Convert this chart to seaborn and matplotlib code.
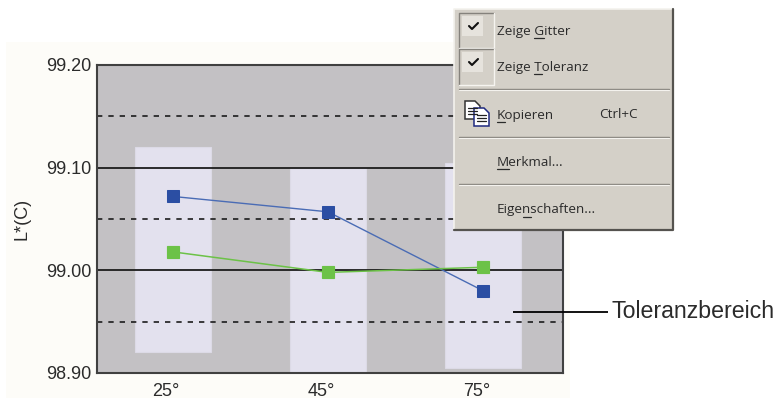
import pandas as pd
import matplotlib
matplotlib.use('Agg')
import matplotlib.pyplot as plt
import seaborn as sns
from matplotlib.patches import Rectangle, Polygon
from matplotlib.transforms import ScaledTranslation

# --- Daten ---
WINKEL = ['25°', '45°', '75°']
TOL_OBEN = [99.120, 99.100, 99.105]
TOL_UNTEN = [98.920, 98.900, 98.905]
BLAU = [99.072, 99.057, 98.980]
GRUEN = [99.018, 98.998, 99.003]
Y_TICKS = [98.90, 99.00, 99.10, 99.20]
GITTER_VOLL = [99.00, 99.10]
GITTER_STRICH = [98.95, 99.05, 99.15]

MENU_FARBE = '#d4d0c8'
TEXT_FARBE = '#2b2b2b'
MENU_FONT = 9.7

sns.set_theme(style='white')
plt.rcParams['font.family'] = ['Liberation Sans', 'DejaVu Sans']

df = pd.DataFrame({'winkel': WINKEL,
                   'hoehe': [o - u for o, u in zip(TOL_OBEN, TOL_UNTEN)],
                   'unten': TOL_UNTEN, 'blau': BLAU, 'gruen': GRUEN})

fig = plt.figure(figsize=(7.77, 3.99), dpi=100, facecolor='white')

# Hintergrund in Pixelkoordinaten
hg = fig.add_axes([0, 0, 1, 1], zorder=0)
hg.set_xlim(0, 777)
hg.set_ylim(399, 0)
hg.axis('off')
hg.add_patch(Rectangle((6, 42), 564, 356, fc='#fdfcf8', ec='none'))

ax = fig.add_axes([97 / 777, (399 - 373) / 399, 466 / 777, 308 / 399], zorder=1)
ax.set_facecolor('#c3c1c4')

# Toleranzbereiche
sns.barplot(data=df, x='winkel', y='hoehe', bottom=df['unten'], color='#e3e1ee', errorbar=None,
            saturation=1, width=0.49, edgecolor='#dcdae6', linewidth=0.8, ax=ax, zorder=1)

for w in GITTER_VOLL:
    ax.axhline(w, color='#1c1c1c', lw=1.3, zorder=2)
for w in GITTER_STRICH:
    ax.axhline(w, color='#1c1c1c', lw=1.2, dashes=(3.2, 3.6), zorder=2)

# Messreihen
sns.pointplot(data=df, x='winkel', y='blau', color='#2b4ea3', markers='s', markersize=8,
              linewidth=1, errorbar=None, ax=ax, zorder=3)
blau_linie = ax.lines[-1]
blau_linie.set_color('#4a6cb5')
blau_linie.set_markerfacecolor('#2b4ea3')
blau_linie.set_markeredgecolor('#2b4ea3')
sns.pointplot(data=df, x='winkel', y='gruen', color='#6cc247', markers='s', markersize=8,
              linewidth=1.1, errorbar=None, ax=ax, zorder=4)

ax.set_xlim(-0.487, 2.513)
ax.set_ylim(98.90, 99.20)
ax.set_yticks(Y_TICKS)
ax.set_yticklabels([f'{t:.2f}' for t in Y_TICKS])
ax.set_xlabel('')
ax.set_ylabel('L*(C)', fontsize=13, color=TEXT_FARBE, labelpad=11)
ax.tick_params(axis='both', length=0, labelsize=13, labelcolor=TEXT_FARBE)
ax.tick_params(axis='y', pad=4)
ax.tick_params(axis='x', pad=7)
# Beschriftung sitzt links neben dem Messpunkt
versatz = ScaledTranslation(-7 / 100, 0, fig.dpi_scale_trans)
for lab in ax.get_xticklabels():
    lab.set_transform(lab.get_transform() + versatz)
for seite in ax.spines.values():
    seite.set_visible(True)
    seite.set_color('#404040')
    seite.set_linewidth(1.5)

# Menü und Beschriftung darüber
ob = fig.add_axes([0, 0, 1, 1], zorder=5)
ob.set_xlim(0, 777)
ob.set_ylim(399, 0)
ob.axis('off')
ob.patch.set_alpha(0)

ob.plot([513, 608], [312, 312], color='black', lw=1.3, solid_capstyle='butt')
ob.text(611, 312, 'Toleranzbereich', fontsize=16.7, color=TEXT_FARBE, va='center', ha='left')

ob.add_patch(Rectangle((454, 9), 219, 221, fc=MENU_FARBE, ec='none'))
ob.plot([454, 454, 673], [230, 9, 9], color='#f4f2ee', lw=1.2)
ob.plot([454, 673, 673], [230, 230, 9], color='#55534f', lw=1.6)

for y in [89, 137, 184]:
    ob.plot([459, 669], [y, y], color='#8a8780', lw=1)
    ob.plot([459, 669], [y + 1, y + 1], color='#f4f2ee', lw=0.8)

# Häkchen-Felder
for y, h in [(13, 35), (49, 36)]:
    ob.add_patch(Rectangle((462, y + 3), 21, 20, fc='#e6e3dd', ec='none'))
    ob.plot([459, 459, 494], [y + h, y, y], color='#85827c', lw=1)
    ob.plot([459, 494, 494], [y + h, y + h, y], color='#f6f4f0', lw=1)
    ob.plot([469, 472, 478], [y + 13, y + 16, y + 10], color='#111111', lw=1.5)


def menu_text(x, y, s, unter=None):
    t = ob.text(x, y, s, fontsize=MENU_FONT, color=TEXT_FARBE, va='center', ha='left', family='Open Sans')
    if unter is not None:
        r = fig.canvas.get_renderer()
        kw = dict(fontsize=MENU_FONT, family='Open Sans')
        links = ob.text(0, 0, s[:unter] + '|', **kw)
        strich = ob.text(0, 0, '|', **kw)
        voll = ob.text(0, 0, s[:unter + 1] + '|', **kw)
        x0 = x + links.get_window_extent(r).width - strich.get_window_extent(r).width
        x1 = x + voll.get_window_extent(r).width - strich.get_window_extent(r).width
        for h in (links, strich, voll):
            h.remove()
        ob.plot([x0, x1], [y + 6.5, y + 6.5], color=TEXT_FARBE, lw=0.9)
    return t


menu_text(497, 31, 'Zeige Gitter', 6)
menu_text(497, 67, 'Zeige Toleranz', 6)
menu_text(497, 115, 'Kopieren', 0)
menu_text(599, 115, 'Ctrl+C')
menu_text(497, 162, 'Merkmal...', 0)
menu_text(497, 210, 'Eigenschaften...', 4)

# Kopieren-Symbol
for x0, y0, rand in [(465, 101, '#333333'), (474, 108, '#1f2a80')]:
    ob.add_patch(Polygon([(x0, y0), (x0 + 10, y0), (x0 + 15, y0 + 5), (x0 + 15, y0 + 18), (x0, y0 + 18)],
                         closed=True, fc='white', ec=rand, lw=1.1))
    for k in range(3):
        ob.plot([x0 + 3, x0 + 12], [y0 + 7 + 3 * k] * 2, color='#222222', lw=0.9)

fig.savefig('out.png', dpi=100)
plt.close(fig)
